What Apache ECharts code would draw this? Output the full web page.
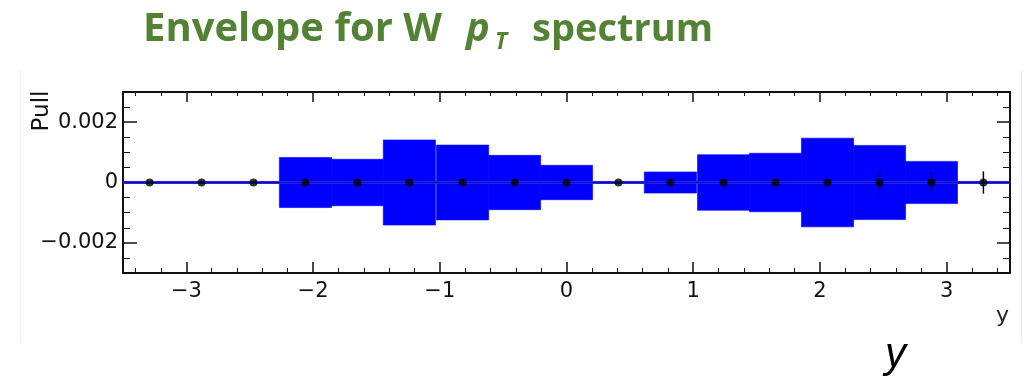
<!DOCTYPE html>
<html><head><meta charset="utf-8">
<script src="https://cdn.jsdelivr.net/npm/echarts@6/dist/echarts.min.js"></script>
<style>html,body{margin:0;padding:0;background:#fff}#c{width:1035px;height:378px}</style>
</head><body><div id="c"></div>
<script>
// ---- data ----
const binCenters   = [-3.29, -2.88, -2.47, -2.06, -1.65, -1.24, -0.82, -0.41, 0, 0.41, 0.82, 1.24, 1.65, 2.06, 2.47, 2.88, 3.29];
const binHalfWidth = 0.206;
const pullValues   = [0, 0, 0, 0, 0, 0, 0, 0, 0, 0, 0, 0, 0, 0, 0, 0, 0];
const pullErrors   = [0, 0, 0, 0, 0, 0, 0, 0, 0, 0, 0, 0, 0, 0, 0.00038, 0.00033, 0.00037];
const envelopeHalf = [0, 0, 0, 0.00083, 0.00077, 0.00141, 0.00124, 0.00090, 0.00057, 0, 0.00035, 0.00092, 0.00097, 0.00147, 0.00123, 0.00070, 0];
const xRange = [-3.5, 3.5];
const yRange = [-0.003, 0.003];
const titleParts = ['Envelope for W', 'p', 'T', 'spectrum'];
const yAxisTitle = 'Pull';
const xAxisTitle = 'y';
const bigLabel = 'y';

const frameColor = '#111';
const fmt = v => (v === 0 ? '0' : (v < 0 ? '\u2212' : '') + String(+Math.abs(v).toFixed(6)));

function axisCommon(pos, showLabel, tickLen, minorLen, minorSplit) {
  return {
    type: 'value', position: pos,
    axisLine: { show: true, onZero: false, lineStyle: { color: frameColor, width: 2 } },
    axisTick: { show: true, inside: true, length: tickLen, lineStyle: { color: frameColor, width: 1.5 } },
    minorTick: { show: true, splitNumber: minorSplit, length: minorLen, lineStyle: { color: frameColor, width: 1 } },
    splitLine: { show: false },
    axisLabel: { show: showLabel, showMinLabel: false, showMaxLabel: false, formatter: fmt,
      fontFamily: 'DejaVu Sans', fontSize: 21, color: '#111' }
  };
}

const xBottom = Object.assign(axisCommon('bottom', true, 11, 5, 5), { min: xRange[0], max: xRange[1], splitNumber: 7 });
xBottom.axisLabel.margin = 8;
const xTop = Object.assign(axisCommon('top', false, 10, 4, 5), { min: xRange[0], max: xRange[1], splitNumber: 7 });
const yLeft = Object.assign(axisCommon('left', true, 14, 7, 4), { min: yRange[0], max: yRange[1], splitNumber: 3 });
yLeft.axisLabel.margin = 5;
const yRight = Object.assign(axisCommon('right', false, 13, 7, 4), { min: yRange[0], max: yRange[1], splitNumber: 3 });

const bandData = [];
binCenters.forEach((c, i) => { if (envelopeHalf[i] > 0) bandData.push([c, envelopeHalf[i]]); });
const errData = [];
binCenters.forEach((c, i) => { if (pullErrors[i] > 0) errData.push([c, pullValues[i], pullErrors[i]]); });
const pointData = binCenters.map((c, i) => [c, pullValues[i]]);

const chart = echarts.init(document.getElementById('c'), null, { renderer: 'canvas' });
chart.setOption({
  animation: false,
  backgroundColor: '#fff',
  grid: { left: 123, right: 25, top: 92, bottom: 105, containLabel: false },
  xAxis: [xBottom, xTop],
  yAxis: [yLeft, yRight],
  series: [
    {
      type: 'custom', xAxisIndex: 0, yAxisIndex: 0, data: bandData, encode: { x: 0, y: 1 }, z: 1,
      renderItem: (params, api) => {
        const c = api.value(0), h = api.value(1);
        const p1 = api.coord([c - binHalfWidth, h]);
        const p2 = api.coord([c + binHalfWidth, -h]);
        return { type: 'rect', shape: { x: p1[0], y: p1[1], width: p2[0] - p1[0], height: p2[1] - p1[1] },
          style: { fill: '#0000ff', stroke: '#0000ff', lineWidth: 0.6 } };
      }
    },
    {
      type: 'line', data: [[xRange[0], 0], [xRange[1], 0]], symbol: 'none', z: 2,
      lineStyle: { color: '#2020ff', width: 3 }
    },
    {
      type: 'line', data: [[xRange[0], 0], [xRange[1], 0]], symbol: 'none', z: 3,
      lineStyle: { color: '#000040', width: 1, opacity: 0.45 }
    },
    {
      type: 'custom', data: errData, encode: { x: 0, y: 1 }, z: 4,
      renderItem: (params, api) => {
        const c = api.value(0), v = api.value(1), e = api.value(2);
        const a = api.coord([c, v + e]);
        const b = api.coord([c, v - e]);
        return { type: 'line', shape: { x1: a[0], y1: a[1], x2: b[0], y2: b[1] },
          style: { stroke: '#000030', lineWidth: 1.5 } };
      }
    },
    {
      type: 'scatter', data: pointData, symbol: 'circle', symbolSize: 8, z: 5,
      itemStyle: { color: '#000' }
    }
  ],
  graphic: [
    { type: 'line', shape: { x1: 20.5, y1: 70, x2: 20.5, y2: 343 }, style: { stroke: '#f2f2f2', lineWidth: 1 } },
    { type: 'line', shape: { x1: 1021.5, y1: 70, x2: 1021.5, y2: 343 }, style: { stroke: '#eeeeee', lineWidth: 1 } },
    { type: 'text', x: 143, y: 30, style: { text: titleParts[0], font: 'bold 40px "Open Sans"', fill: '#548235', verticalAlign: 'middle', align: 'left' } },
    { type: 'text', x: 466, y: 30, style: { text: titleParts[1], font: 'italic bold 40px "Open Sans"', fill: '#548235', verticalAlign: 'middle', align: 'left' } },
    { type: 'text', x: 495, y: 42, style: { text: titleParts[2], font: 'italic bold 23px "Open Sans"', fill: '#548235', verticalAlign: 'middle', align: 'left' } },
    { type: 'text', x: 713, y: 30, style: { text: titleParts[3], font: 'bold 38px "Open Sans"', fill: '#548235', verticalAlign: 'middle', align: 'right' } },
    { type: 'text', x: 42.5, y: 111, rotation: Math.PI / 2, style: { text: yAxisTitle, font: '23px "DejaVu Sans"', fill: '#111', align: 'center', verticalAlign: 'middle' } },
    { type: 'text', x: 1009, y: 316.5, style: { text: xAxisTitle, font: '22px "DejaVu Sans"', fill: '#222', align: 'right', verticalAlign: 'middle' } },
    { type: 'text', x: 885, y: 355, style: { text: bigLabel, font: 'italic 42px "Liberation Sans"', fill: '#000', align: 'left', verticalAlign: 'middle' } }
  ]
});
</script>
</body></html>
